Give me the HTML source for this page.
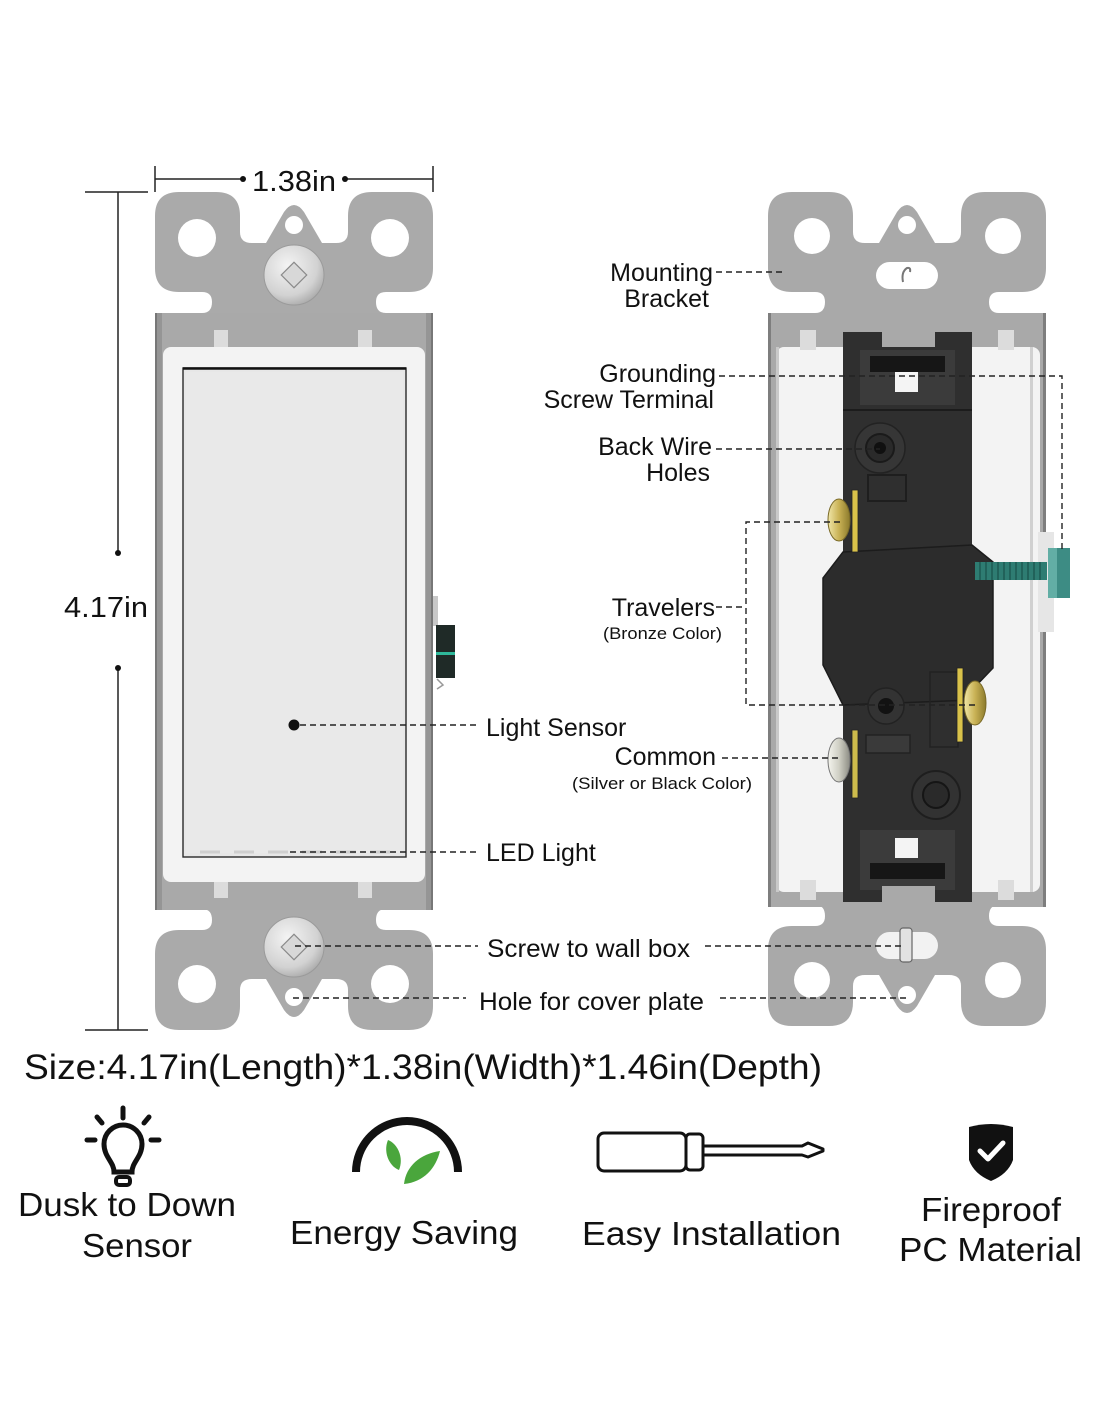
<!DOCTYPE html>
<html><head><meta charset="utf-8"><style>
html,body{margin:0;padding:0;background:#fff;}
svg{display:block;}
text{font-family:"Liberation Sans",Arial,sans-serif;fill:#111;}
</style></head><body>
<svg width="1100" height="1422" viewBox="0 0 1100 1422" xmlns="http://www.w3.org/2000/svg">
<defs>
<path id="brk" d="M179,192 H216 Q240,192 240,216 V232 Q240,243 252,243 H266 L284,212 Q294,198 304,212 L322,243 H336 Q348,243 348,232 V216 Q348,192 372,192 H409 Q433,192 433,216 V268 Q433,292 409,292 H386 Q376,292 376,302 Q376,313 386,313 H433 V322 H155 V313 H202 Q212,313 212,302 Q212,292 202,292 H179 Q155,292 155,268 V216 Q155,192 179,192 Z"/>
<radialGradient id="scr" cx="0.4" cy="0.35" r="0.7">
<stop offset="0" stop-color="#f4f4f4"/><stop offset="0.7" stop-color="#d2d2d2"/><stop offset="1" stop-color="#a8a8a8"/>
</radialGradient>
<linearGradient id="brass" x1="0" x2="1"><stop offset="0" stop-color="#f0e6a8"/><stop offset="0.5" stop-color="#c9b255"/><stop offset="1" stop-color="#8c7a2c"/></linearGradient>
<linearGradient id="silv" x1="0" x2="1"><stop offset="0" stop-color="#f4f4ee"/><stop offset="0.5" stop-color="#cfcfc4"/><stop offset="1" stop-color="#8c8c84"/></linearGradient>
</defs>

<!-- ============ LEFT SWITCH ============ -->
<g>
<use href="#brk" fill="#aaaaaa"/>
<g transform="translate(0,1222) scale(1,-1)"><use href="#brk" fill="#aaaaaa"/></g>
<rect x="155" y="313" width="278" height="597" fill="#a9a9a9"/>
<rect x="155" y="313" width="7" height="597" fill="#959595"/>
<rect x="426" y="313" width="7" height="597" fill="#959595"/>
<rect x="155" y="313" width="2" height="597" fill="#777"/>
<rect x="431" y="313" width="2" height="597" fill="#777"/>
<!-- tabs -->
<rect x="214" y="330" width="14" height="20" fill="#dcdcdc"/>
<rect x="358" y="330" width="14" height="20" fill="#dcdcdc"/>
<rect x="214" y="878" width="14" height="20" fill="#dcdcdc"/>
<rect x="358" y="878" width="14" height="20" fill="#dcdcdc"/>
<!-- white frame -->
<rect x="163" y="347" width="262" height="535" rx="8" fill="#f3f3f3"/>
<!-- paddle -->
<rect x="183" y="368" width="223" height="489" fill="#e7e7e7" stroke="#2a2a2a" stroke-width="1.4"/>
<line x1="183" y1="368.5" x2="406" y2="368.5" stroke="#111" stroke-width="2.5"/>
<rect x="186" y="372" width="217" height="481" fill="#e9e9e9"/>
<line x1="200" y1="852" x2="400" y2="852" stroke="#cfcfcf" stroke-width="3" stroke-dasharray="20 14"/>
<!-- holes -->
<circle cx="197" cy="238" r="19" fill="#fff"/>
<circle cx="390" cy="238" r="19" fill="#fff"/>
<circle cx="294" cy="225" r="9" fill="#fff"/>
<circle cx="197" cy="984" r="19" fill="#fff"/>
<circle cx="390" cy="984" r="19" fill="#fff"/>
<circle cx="294" cy="997" r="9" fill="#fff"/>
<!-- screws -->
<circle cx="294" cy="275" r="30" fill="url(#scr)" stroke="#9a9a9a" stroke-width="1"/>
<rect x="285" y="266" width="18" height="18" fill="#d8d8d8" stroke="#8a8a8a" stroke-width="1.2" transform="rotate(45 294 275)"/>
<circle cx="294" cy="947" r="30" fill="url(#scr)" stroke="#9a9a9a" stroke-width="1"/>
<rect x="285" y="938" width="18" height="18" fill="#d8d8d8" stroke="#8a8a8a" stroke-width="1.2" transform="rotate(45 294 947)"/>
<!-- side terminal -->
<rect x="433" y="596" width="5" height="30" fill="#c8c8c8"/>
<rect x="436" y="625" width="19" height="53" fill="#1f2a27"/>
<rect x="436" y="652" width="19" height="3" fill="#2fb89a"/>
<path d="M437,679 l6,6 l-6,4" fill="none" stroke="#999" stroke-width="1.5"/>
</g>

<!-- ============ RIGHT SWITCH ============ -->
<g>
<g transform="translate(613,0)"><use href="#brk" fill="#a9a9a9"/></g>
<g transform="translate(613,1218) scale(1,-1)"><use href="#brk" fill="#a9a9a9"/></g>
<rect x="768" y="313" width="278" height="594" fill="#a9a9a9"/>
<rect x="768" y="313" width="3" height="594" fill="#7e7e7e"/>
<rect x="1043" y="313" width="3" height="594" fill="#7e7e7e"/>
<!-- white area -->
<rect x="776" y="347" width="264" height="545" rx="8" fill="#f3f3f3"/>
<rect x="776" y="347" width="3" height="545" fill="#c9c9c9"/>
<rect x="1030" y="347" width="3" height="545" fill="#d0d0d0"/>
<!-- tabs -->
<rect x="800" y="330" width="16" height="20" fill="#dcdcdc"/>
<rect x="998" y="330" width="16" height="20" fill="#dcdcdc"/>
<rect x="800" y="880" width="16" height="20" fill="#dcdcdc"/>
<rect x="998" y="880" width="16" height="20" fill="#dcdcdc"/>
<!-- holes -->
<circle cx="812" cy="236" r="18" fill="#fff"/>
<circle cx="1003" cy="236" r="18" fill="#fff"/>
<circle cx="907" cy="225" r="9" fill="#fff"/>
<rect x="876" y="262" width="62" height="27" rx="13.5" fill="#fff"/>
<path d="M903,282 q-2,-10 4,-14 q4,-1 3,4" fill="none" stroke="#777" stroke-width="2"/>
<circle cx="812" cy="980" r="18" fill="#fff"/>
<circle cx="1003" cy="980" r="18" fill="#fff"/>
<circle cx="907" cy="995" r="9" fill="#fff"/>
<rect x="876" y="932" width="62" height="27" rx="13.5" fill="#f2f2f2"/>
<rect x="900" y="928" width="12" height="34" rx="3" fill="#e2e2e2" stroke="#666" stroke-width="1.2"/>
<!-- black core -->
<polygon points="843,552 972,545 993,562 993,668 972,690 972,902 843,902 843,705 823,665 823,578" fill="#2f2f2f"/>
<rect x="843" y="332" width="129" height="570" fill="#2f2f2f"/>
<polygon points="843,552 972,545 993,562 993,668 972,690 972,700 843,705 823,665 823,578" fill="#2c2c2c" stroke="#1c1c1c" stroke-width="1.5"/>
<rect x="882" y="330" width="53" height="17" fill="#a9a9a9"/>
<rect x="860" y="350" width="95" height="55" fill="#3b3b3b"/>
<rect x="870" y="356" width="75" height="16" fill="#161616"/>
<rect x="895" y="372" width="23" height="20" fill="#f4f4f4"/>
<line x1="843" y1="410" x2="972" y2="410" stroke="#1c1c1c" stroke-width="2"/>
<circle cx="880" cy="448" r="25" fill="#363636" stroke="#222" stroke-width="1.5"/>
<circle cx="880" cy="448" r="14" fill="#2a2a2a" stroke="#1a1a1a" stroke-width="2"/>
<circle cx="880" cy="448" r="6" fill="#101010"/>
<rect x="868" y="475" width="38" height="26" fill="none" stroke="#1e1e1e" stroke-width="2"/>
<circle cx="886" cy="706" r="18" fill="#333" stroke="#222" stroke-width="1.5"/>
<circle cx="886" cy="706" r="8" fill="#121212"/>
<rect x="930" y="672" width="28" height="75" fill="none" stroke="#222" stroke-width="1.5"/>
<rect x="866" y="735" width="44" height="18" fill="#3a3a3a" stroke="#222" stroke-width="1.5"/>
<circle cx="936" cy="795" r="24" fill="#323232" stroke="#1e1e1e" stroke-width="2"/>
<circle cx="936" cy="795" r="13" fill="#2a2a2a" stroke="#151515" stroke-width="2"/>
<rect x="860" y="830" width="95" height="60" fill="#3b3b3b"/>
<rect x="895" y="838" width="23" height="20" fill="#f4f4f4"/>
<rect x="870" y="863" width="75" height="16" fill="#161616"/>
<rect x="882" y="886" width="53" height="18" fill="#a9a9a9"/>
<!-- screws -->
<rect x="852" y="490" width="6" height="62" fill="#d9c24a" stroke="#222" stroke-width="0.8"/>
<ellipse cx="839" cy="520" rx="11" ry="21" fill="url(#brass)" stroke="#7a6a28" stroke-width="1"/>
<rect x="957" y="668" width="6" height="74" fill="#d9c24a" stroke="#222" stroke-width="0.8"/>
<ellipse cx="975" cy="703" rx="11" ry="22" fill="url(#brass)" stroke="#7a6a28" stroke-width="1"/>
<rect x="852" y="730" width="6" height="68" fill="#cdbb4c" stroke="#222" stroke-width="0.8"/>
<ellipse cx="839" cy="760" rx="11" ry="22" fill="url(#silv)" stroke="#777" stroke-width="1"/>
<!-- ground screw -->
<rect x="1038" y="532" width="16" height="100" fill="#e6e6e6"/>
<rect x="975" y="562" width="72" height="18" fill="#2e7c72"/>
<path d="M980,562 v18 M986,562 v18 M992,562 v18 M998,562 v18 M1004,562 v18 M1010,562 v18 M1016,562 v18 M1022,562 v18 M1028,562 v18 M1034,562 v18 M1040,562 v18" stroke="#1d5a52" stroke-width="1.5"/>
<rect x="1048" y="548" width="22" height="50" fill="#3d8c84"/>
<rect x="1048" y="548" width="9" height="50" fill="#62aea5"/>
</g>

<!-- ============ DIMENSIONS ============ -->
<g stroke="#222" stroke-width="1.5" fill="none">
<line x1="155" y1="179" x2="242" y2="179"/>
<line x1="346" y1="179" x2="433" y2="179"/>
<line x1="155" y1="166" x2="155" y2="192"/>
<line x1="433" y1="166" x2="433" y2="192"/>
<line x1="118" y1="192" x2="118" y2="553"/>
<line x1="118" y1="668" x2="118" y2="1030"/>
<line x1="85" y1="192" x2="148" y2="192"/>
<line x1="85" y1="1030" x2="148" y2="1030"/>
</g>
<circle cx="243" cy="179" r="3" fill="#111"/>
<circle cx="345" cy="179" r="3" fill="#111"/>
<circle cx="118" cy="553" r="3" fill="#111"/>
<circle cx="118" cy="668" r="3" fill="#111"/>
<text x="252" y="191" font-size="29" textLength="84" lengthAdjust="spacingAndGlyphs">1.38in</text>
<text x="64" y="617" font-size="29" textLength="84" lengthAdjust="spacingAndGlyphs">4.17in</text>

<!-- ============ LEADER LINES ============ -->
<g stroke="#222" stroke-width="1.4" fill="none" stroke-dasharray="6 4">
<path d="M716,272 H782"/>
<path d="M719,376 H1062 V552"/>
<path d="M716,449 H880"/>
<path d="M716,607 H746"/>
<path d="M840,522 H746 V705 H975"/>
<path d="M300,725 H478"/>
<path d="M722,758 H838"/>
<path d="M290,852 H478"/>
<path d="M295,946 H478"/>
<path d="M705,946 H905"/>
<path d="M293,998 H466"/>
<path d="M720,998 H907"/>
</g>
<circle cx="294" cy="725" r="5.5" fill="#111"/>

<!-- ============ LABELS ============ -->
<g font-size="25">
<text x="713" y="281" text-anchor="end">Mounting</text>
<text x="709" y="307" text-anchor="end">Bracket</text>
<text x="716" y="382" text-anchor="end">Grounding</text>
<text x="714" y="408" text-anchor="end">Screw Terminal</text>
<text x="712" y="455" text-anchor="end">Back Wire</text>
<text x="710" y="481" text-anchor="end">Holes</text>
<text x="715" y="616" text-anchor="end">Travelers</text>
<text x="486" y="736">Light Sensor</text>
<text x="716" y="765" text-anchor="end">Common</text>
<text x="486" y="861">LED Light</text>
<text x="487" y="957" textLength="203" lengthAdjust="spacingAndGlyphs">Screw to wall box</text>
<text x="479" y="1010" textLength="225" lengthAdjust="spacingAndGlyphs">Hole for cover plate</text>
</g>
<text x="603" y="639" font-size="17" textLength="119" lengthAdjust="spacingAndGlyphs">(Bronze Color)</text>
<text x="572" y="789" font-size="17" textLength="180" lengthAdjust="spacingAndGlyphs">(Silver or Black Color)</text>

<!-- ============ SIZE ============ -->
<text x="24" y="1079" font-size="35" textLength="798" lengthAdjust="spacingAndGlyphs">Size:4.17in(Length)*1.38in(Width)*1.46in(Depth)</text>

<!-- ============ ICONS ============ -->
<!-- bulb -->
<g stroke="#111" stroke-width="5" fill="none" stroke-linecap="round">
<path d="M114,1172 C114,1162 104,1157 104,1144 A19,19 0 1 1 142,1144 C142,1157 132,1162 132,1172 Z"/>
<rect x="116" y="1177" width="14" height="8" rx="3" stroke-width="4"/>
<line x1="123" y1="1108" x2="123" y2="1118"/>
<line x1="97" y1="1117" x2="102" y2="1123"/>
<line x1="149" y1="1117" x2="144" y2="1123"/>
<line x1="87" y1="1140" x2="95" y2="1140"/>
<line x1="151" y1="1140" x2="159" y2="1140"/>
</g>
<!-- energy arc -->
<path d="M356,1172 A51,51 0 0 1 458,1172" fill="none" stroke="#111" stroke-width="8"/>
<path d="M388,1140 C398,1144 404,1158 399,1170 C389,1166 383,1152 388,1140 Z" fill="#4aa63c"/>
<path d="M440,1151 C436,1168 424,1182 404,1184 C406,1166 420,1154 440,1151 Z" fill="#4aa63c"/>
<!-- screwdriver -->
<g stroke="#111" stroke-width="3" fill="#fff" stroke-linejoin="round">
<rect x="598" y="1133" width="88" height="38" rx="6"/>
<rect x="686" y="1134" width="17" height="36" rx="4"/>
<path d="M703,1146 H802 L808,1143 L823,1149 L823,1151 L808,1157 L802,1155 H703 Z"/>
</g>
<!-- shield -->
<path d="M969,1127 Q991,1121 1013,1127 V1160 Q1008,1174 991,1181 Q974,1174 969,1160 Z" fill="#111"/>
<path d="M980,1151 L988,1159 L1003,1143" fill="none" stroke="#fff" stroke-width="5" stroke-linecap="round" stroke-linejoin="round"/>

<g font-size="33">
<text x="18" y="1216" textLength="218" lengthAdjust="spacingAndGlyphs">Dusk to Down</text>
<text x="82" y="1257" textLength="110" lengthAdjust="spacingAndGlyphs">Sensor</text>
<text x="290" y="1244" textLength="228" lengthAdjust="spacingAndGlyphs">Energy Saving</text>
<text x="582" y="1245" textLength="259" lengthAdjust="spacingAndGlyphs">Easy Installation</text>
<text x="921" y="1221" textLength="140" lengthAdjust="spacingAndGlyphs">Fireproof</text>
<text x="899" y="1261" textLength="183" lengthAdjust="spacingAndGlyphs">PC Material</text>
</g>
</svg>
</body></html>
